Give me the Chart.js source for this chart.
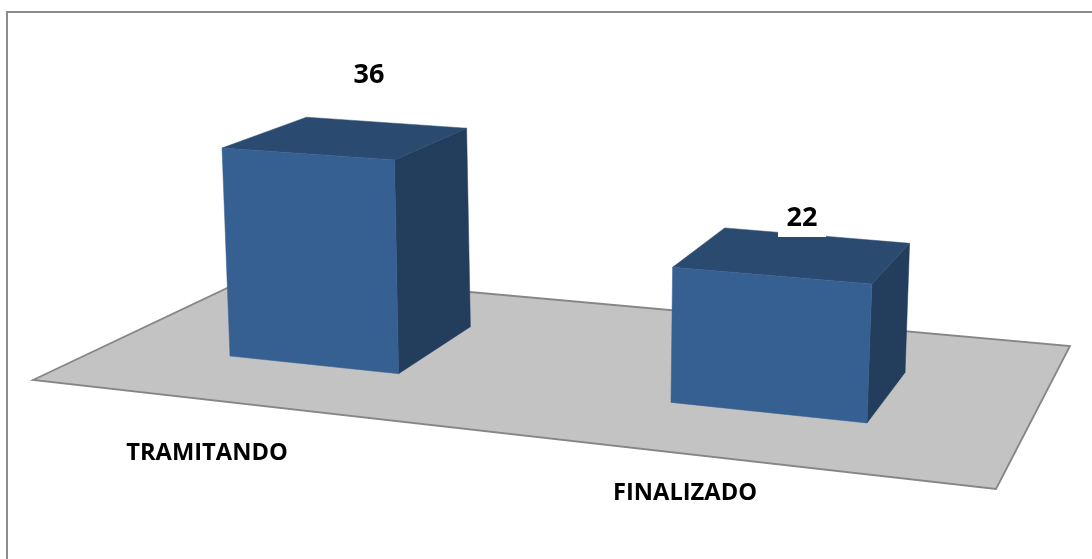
<!DOCTYPE html>
<html>
<head>
<meta charset="utf-8">
<style>
  html, body { margin: 0; padding: 0; background: #fff; }
  #wrap { position: relative; width: 1092px; height: 559px; }
</style>
<script src="https://cdn.jsdelivr.net/npm/chart.js@4"></script>
</head>
<body>
<div id="wrap"><canvas id="estado"></canvas></div>
<script>
var categories = ["TRAMITANDO", "FINALIZADO"];
var values = [36, 22];

// where the plane of the bar fronts lands on the page, and where depth lines meet
var frontPlane = [[222, 148], [875, 193], [867, 423], [230, 356]];
var depthPoint = [1396, -280];
var depth = 0.072;
var floorPlane = [[33, 380], [259, 273], [1070, 346], [996, 489]];

var valueAnchors = [[369, 75], [802, 218]];
var categoryAnchors = [[207, 453], [685, 493]];

var colFront = "#376092";
var colTop = "#2a4a70";
var colSide = "#233d5c";

// unit square -> quad (Heckbert)
function squareToQuad(q) {
  var x0 = q[0][0], y0 = q[0][1], x1 = q[1][0], y1 = q[1][1];
  var x2 = q[2][0], y2 = q[2][1], x3 = q[3][0], y3 = q[3][1];
  var dx1 = x1 - x2, dx2 = x3 - x2, sx = x0 - x1 + x2 - x3;
  var dy1 = y1 - y2, dy2 = y3 - y2, sy = y0 - y1 + y2 - y3;
  var d = dx1 * dy2 - dx2 * dy1;
  var g = (sx * dy2 - dx2 * sy) / d;
  var h = (dx1 * sy - sx * dy1) / d;
  return function (u, v) {
    var w = g * u + h * v + 1;
    return [
      ((x1 - x0 + g * x1) * u + (x3 - x0 + h * x3) * v + x0) / w,
      ((y1 - y0 + g * y1) * u + (y3 - y0 + h * y3) * v + y0) / w
    ];
  };
}

var project = null;

function back(p) {
  return [p[0] + (depthPoint[0] - p[0]) * depth, p[1] + (depthPoint[1] - p[1]) * depth];
}

function face(ctx, pts, color) {
  ctx.beginPath();
  pts.forEach(function (p, i) {
    if (i == 0) ctx.moveTo(p[0], p[1]); else ctx.lineTo(p[0], p[1]);
  });
  ctx.closePath();
  ctx.fillStyle = color;
  ctx.fill();
  ctx.strokeStyle = color;
  ctx.lineWidth = 0.5;
  ctx.stroke();
}

// bars keep their scale positions, they only get pushed through the perspective
Chart.BarElement.prototype.draw = function (ctx) {
  var l = this.x - this.width / 2, r = this.x + this.width / 2;
  var tl = project(l, this.y), tr = project(r, this.y);
  var bl = project(l, this.base), br = project(r, this.base);
  ctx.save();
  face(ctx, [tr, br, back(br), back(tr)], colSide);
  face(ctx, [tl, tr, back(tr), back(tl)], colTop);
  face(ctx, [tl, tr, br, bl], this.options.backgroundColor);
  ctx.restore();
};

var scene = {
  id: "scene",
  beforeDatasetsDraw: function (chart) {
    var ctx = chart.ctx;
    var bars = chart.getDatasetMeta(0).data;
    var left = bars[0].x - bars[0].width / 2;
    var right = bars[1].x + bars[1].width / 2;
    var top = chart.scales.y.getPixelForValue(values[0]);
    var bottom = chart.scales.y.getPixelForValue(0);
    var toPlane = squareToQuad(frontPlane);
    project = function (x, y) {
      return toPlane((x - left) / (right - left), (y - top) / (bottom - top));
    };

    ctx.save();
    ctx.strokeStyle = "#8c8c8c";
    ctx.lineWidth = 2;
    ctx.beginPath();
    ctx.moveTo(7, 559);
    ctx.lineTo(7, 12);
    ctx.lineTo(1092, 12);
    ctx.stroke();

    ctx.beginPath();
    floorPlane.forEach(function (p, i) {
      if (i == 0) ctx.moveTo(p[0], p[1]); else ctx.lineTo(p[0], p[1]);
    });
    ctx.closePath();
    ctx.fillStyle = "#c3c3c3";
    ctx.fill();
    ctx.strokeStyle = "#868686";
    ctx.lineWidth = 1.8;
    ctx.stroke();
    ctx.restore();
  },
  afterDatasetsDraw: function (chart) {
    var ctx = chart.ctx;
    ctx.save();
    ctx.textAlign = "center";
    ctx.textBaseline = "middle";

    // the second value sits on a white box that cuts into the bar top
    ctx.fillStyle = "#fff";
    ctx.fillRect(valueAnchors[1][0] - 24, valueAnchors[1][1] - 18, 48, 37);
    ctx.fillStyle = "#000";

    ctx.font = "bold 27px 'Open Sans'";
    values.forEach(function (v, i) {
      ctx.fillText(v, valueAnchors[i][0], valueAnchors[i][1]);
    });
    ctx.font = "bold 23.7px 'Open Sans'";
    categories.forEach(function (c, i) {
      ctx.fillText(c, categoryAnchors[i][0], categoryAnchors[i][1]);
    });
    ctx.restore();
  }
};

new Chart(document.getElementById("estado"), {
  type: "bar",
  data: {
    labels: categories,
    datasets: [
      {
        label: "Estado",
        backgroundColor: colFront,
        data: values,
        categoryPercentage: 0.4,
        barPercentage: 1
      }
    ]
  },
  options: {
    responsive: true,
    maintainAspectRatio: false,
    animation: false,
    layout: { padding: 0 },
    plugins: { legend: { display: false }, title: { display: false }, tooltip: { enabled: false } },
    scales: {
      x: { display: false },
      y: { display: false, min: 0, max: 40 }
    }
  },
  plugins: [scene]
});
</script>
</body>
</html>
